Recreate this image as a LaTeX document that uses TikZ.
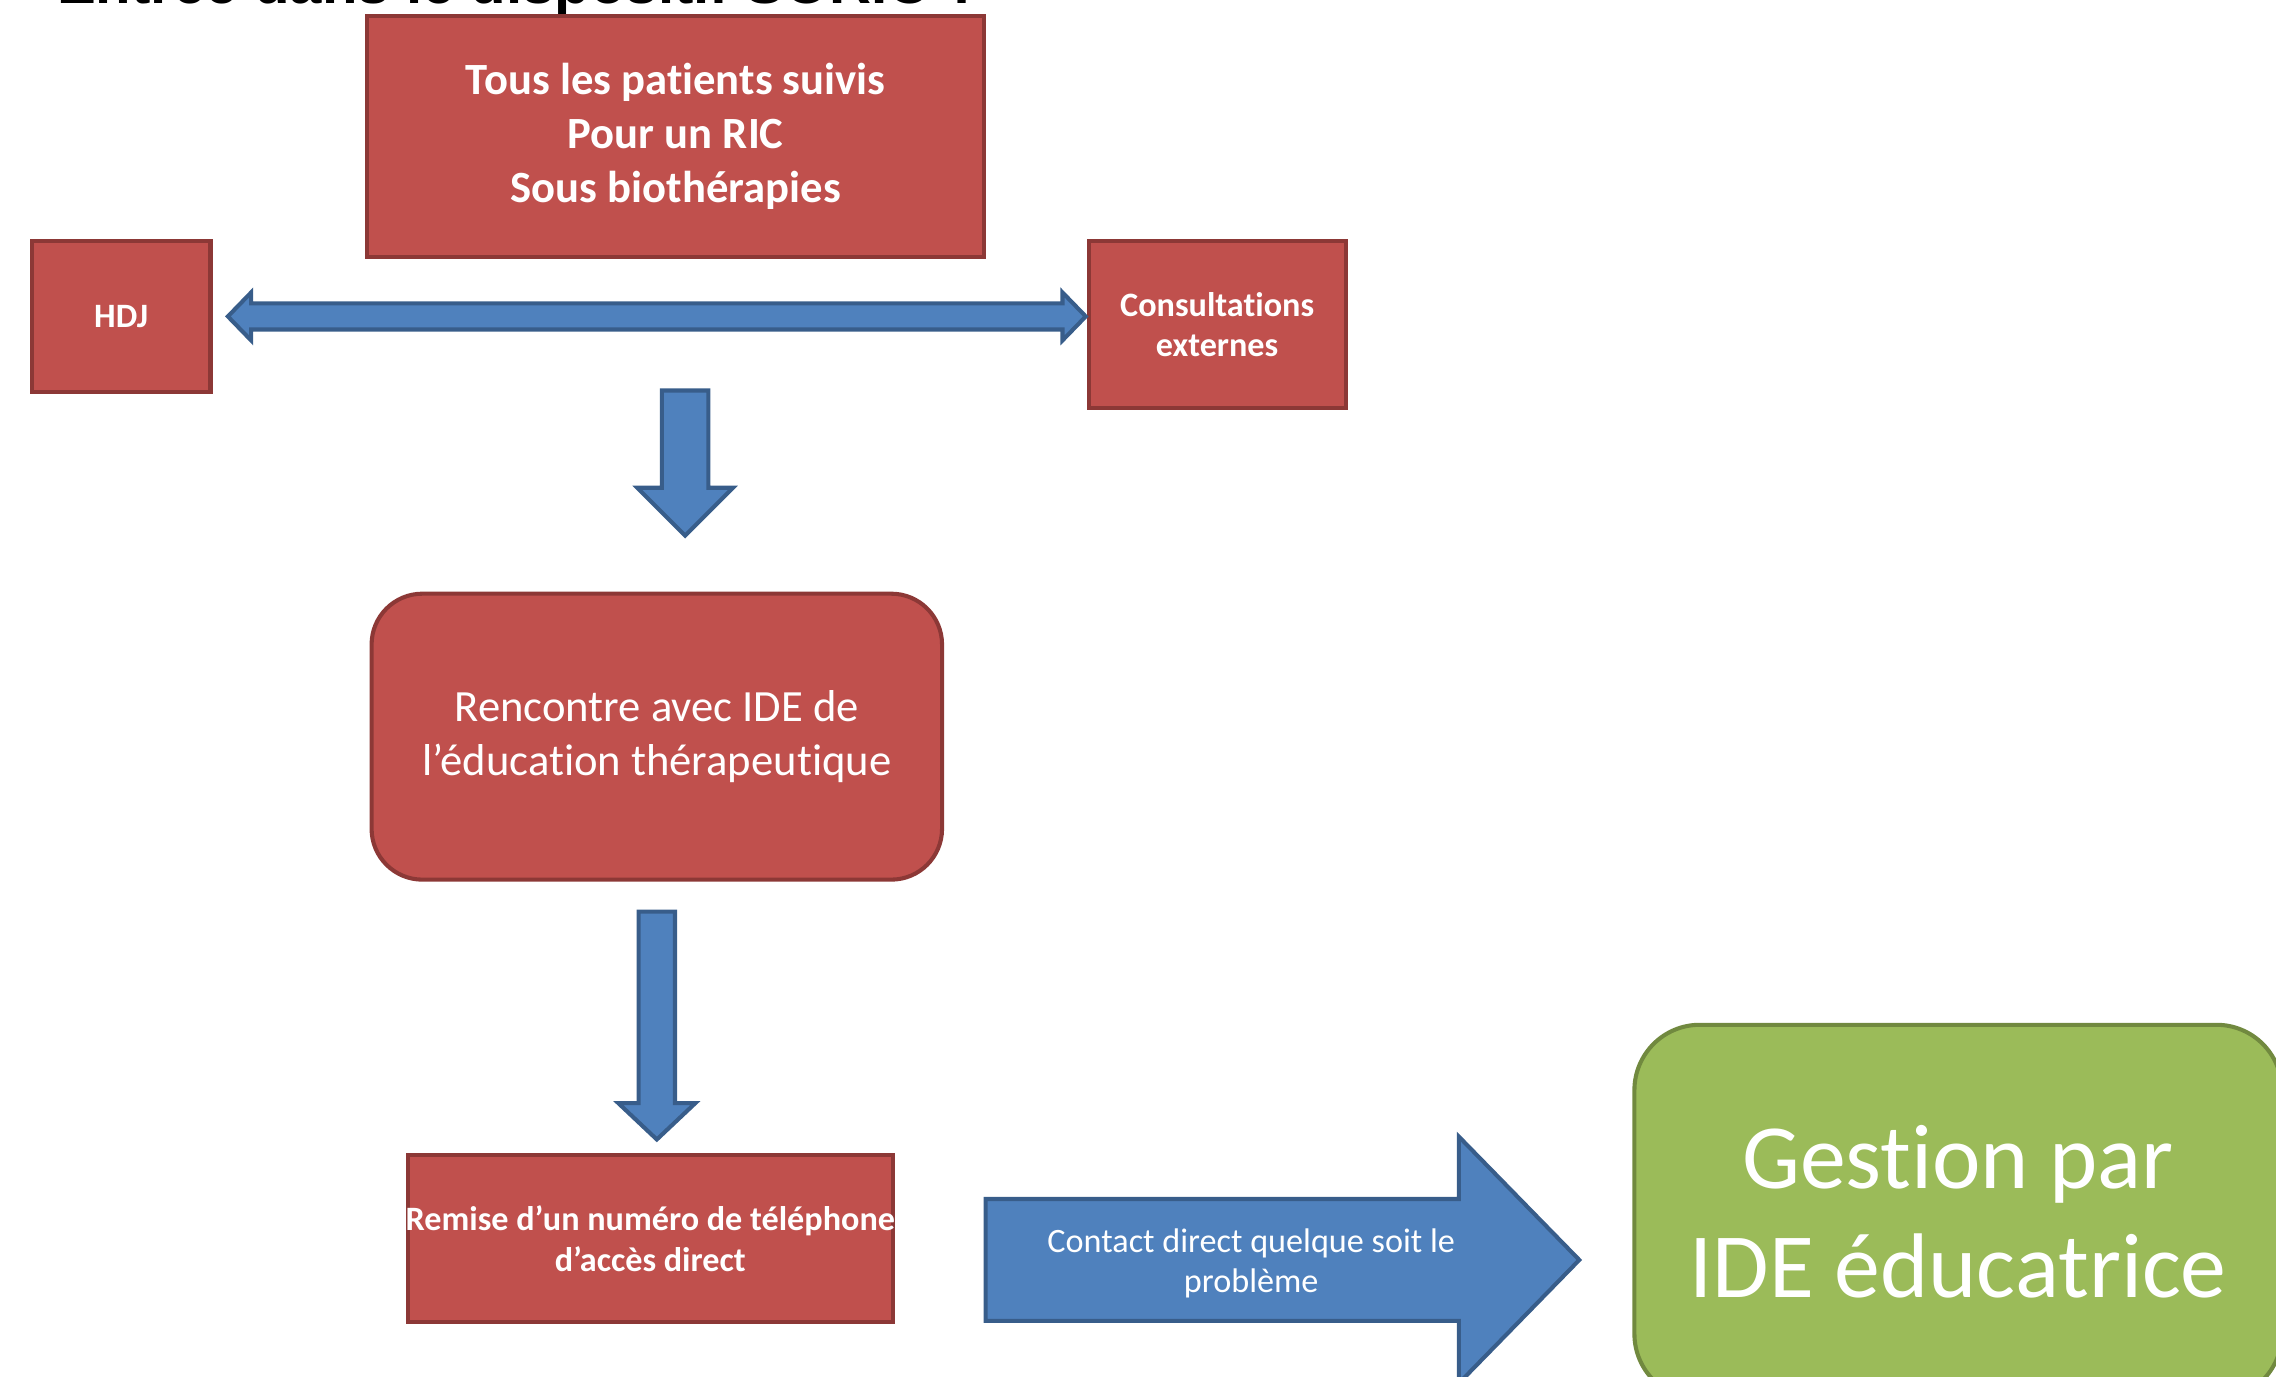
\documentclass[tikz,border=0pt]{standalone}
\usepackage{fontspec}
\setmainfont{Carlito}[Ligatures={NoCommon,NoContextual}]
\newfontfamily\titlefont{Liberation Sans}
\usepackage{tikz}

\definecolor{boxred}{HTML}{C0504D}
\definecolor{boxredline}{HTML}{8C3836}
\definecolor{arrowblue}{HTML}{4F81BD}
\definecolor{arrowblueline}{HTML}{385D8A}
\definecolor{boxgreen}{HTML}{9BBB59}
\definecolor{boxgreenline}{HTML}{71893F}

\begin{document}
\begin{tikzpicture}[x=0.2mm, y=-0.2mm,
	redbox/.style={draw=boxredline, fill=boxred, line width=1.6pt, text=white, align=center, inner sep=0pt},
	greenbox/.style={draw=boxgreenline, fill=boxgreen, line width=1.6pt, text=white, align=center, inner sep=0pt, rounded corners=9mm},
	bigbold/.style={font=\bfseries\fontsize{17.5}{21.3}\selectfont},
	smallbold/.style={font=\bfseries\fontsize{13.4}{15.9}\selectfont},
	blockarrow/.style={draw=arrowblueline, fill=arrowblue, line width=1.6pt, line join=miter}]
			
			\useasboundingbox (0,0) rectangle (1568,948);
			
			% Title, cut by the top edge
			\node[anchor=base west, inner sep=0pt, font=\titlefont\bfseries\fontsize{22.8}{27}\selectfont] (title) at (39,2.5) {Entrée dans le dispositif SORIC ?};
			
			% Boxes
			\node[redbox, bigbold, minimum width=85mm, minimum height=33.2mm] (patients) at (465.5,94) {Tous les patients suivis\\Pour un RIC\\Sous biothérapies};
			\node[redbox, smallbold, minimum width=24.6mm, minimum height=20.8mm] (hdj) at (83.5,218) {HDJ};
			\node[redbox, smallbold, minimum width=35.4mm, minimum height=23mm] (consult) at (838.5,223.5) {Consultations\\externes};
			\node[redbox, rounded corners=7mm, font=\fontsize{17.5}{21}\selectfont, minimum width=78.6mm, minimum height=39.4mm] (rencontre) at (452.5,507.5) {Rencontre avec IDE de\\l’éducation thérapeutique};
			\node[redbox, smallbold, minimum width=66.8mm, minimum height=23mm] (remise) at (448,853.5) {\makebox[0pt]{Remise d’un numéro de téléphone}\\d’accès direct};
			\node[greenbox, font=\fontsize{36}{42.7}\selectfont, minimum width=89.2mm, minimum height=51.6mm] (gestion) at (1349,835) {Gestion par\\IDE éducatrice};
			
			% Double arrow between HDJ and consultations
			\draw[blockarrow] (157,218) -- (173,201.5) -- (173,209) -- (732,209) -- (732,201.5) -- (748,218)
				-- (732,234.5) -- (732,227) -- (173,227) -- (173,234.5) -- cycle;
			
			% Down arrows
			\draw[blockarrow] (456,269) -- (488,269) -- (488,336) -- (505,336) -- (472,369) -- (439,336) -- (456,336) -- cycle;
			\draw[blockarrow] (440,628) -- (465,628) -- (465,760) -- (479,760) -- (452.5,785) -- (426,760) -- (440,760) -- cycle;
			
			% Big arrow towards the green box
			\draw[blockarrow] (679,826) -- (1005,826) -- (1005,783) -- (1088,868) -- (1005,953) -- (1005,910) -- (679,910) -- cycle;
			\node[text=white, align=center, inner sep=0pt, font=\fontsize{13.4}{15.9}\selectfont] (contact) at (862,870.5) {Contact direct quelque soit le\\problème};
			
		\end{tikzpicture}
\end{document}
